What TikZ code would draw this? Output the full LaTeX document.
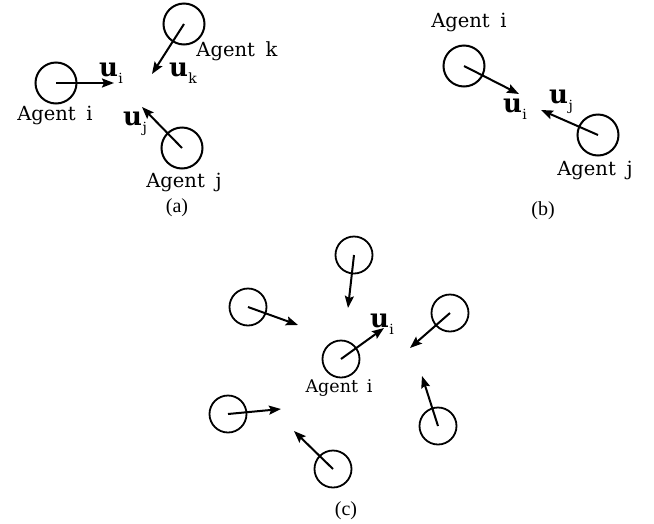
\documentclass[tikz,border=0pt]{standalone}
\usepackage{fontspec}
\setmainfont{DejaVu Serif}
\newfontfamily\capfont{Liberation Serif}
\usetikzlibrary{arrows.meta}
\newcommand\myu[1]{{\bfseries u}\kern0.5pt\raisebox{-0.28em}{\fontsize{14}{14}\selectfont #1}}
\begin{document}
\begin{tikzpicture}[x=1pt,y=-1pt,
  agent/.style={circle,draw,line width=2pt,minimum size=41pt,inner sep=0pt},
  sagent/.style={circle,draw,line width=1.8pt,minimum size=37pt,inner sep=0pt},
  vel/.style={line width=2pt,-{Stealth[length=12pt,width=9pt,inset=2pt]}},
  lbl/.style={font=\fontsize{19.5}{22}\selectfont,inner sep=0pt},
  ulbl/.style={font=\fontsize{26}{28}\selectfont,inner sep=0pt},
  captxt/.style={font=\capfont\fontsize{20}{22}\selectfont,inner sep=0pt}]
\useasboundingbox (0,0) rectangle (654,523);
% ---------- (a)
\node[agent] (ai) at (56,83) {};
\node[agent] (ak) at (184,24) {};
\node[agent] (aj) at (182,148) {};
\coordinate (aiT) at (114,83);
\coordinate (akT) at (152,74);
\coordinate (ajT) at (142,107);
\draw[vel] (ai.center) -- (aiT);
\draw[vel] (ak.center) -- (akT);
\draw[vel] (aj.center) -- (ajT);
\node[ulbl] (aui) at (111,73) {\myu{i}};
\node[ulbl] (auk) at (183,73) {\myu{k}};
\node[ulbl] (auj) at (135,124) {\myu{j}};
\node[lbl] (ati) at (55,115) {Agent\hspace{0.55em}i};
\node[lbl] (atk) at (237,51) {Agent\hspace{0.55em}k};
\node[lbl] (atj) at (184,182) {Agent\hspace{0.55em}j};
\node[captxt] (ca) at (177,208) {(a)};
% ---------- (b)
\node[agent] (bi) at (464,66) {};
\node[agent] (bj) at (598,135) {};
\coordinate (biT) at (519,94);
\coordinate (bjT) at (541,110);
\draw[vel] (bi.center) -- (biT);
\draw[vel] (bj.center) -- (bjT);
\node[ulbl] (bui) at (515,109) {\myu{i}};
\node[ulbl] (buj) at (561,102) {\myu{j}};
\node[lbl] (bti) at (469,22) {Agent\hspace{0.55em}i};
\node[lbl] (btj) at (595,170) {Agent\hspace{0.55em}j};
\node[captxt] (cb) at (543,211) {(b)};
% ---------- (c)
\node[sagent] (ci) at (341,359) {};
\node[sagent] (c1) at (354,255) {};
\node[sagent] (c2) at (248,307) {};
\node[sagent] (c3) at (450,313) {};
\node[sagent] (c4) at (228,414) {};
\node[sagent] (c5) at (438,426) {};
\node[sagent] (c6) at (333,469) {};
\coordinate (ciT) at (384,328);
\coordinate (c1T) at (348,308);
\coordinate (c2T) at (298,325);
\coordinate (c3T) at (410,348);
\coordinate (c4T) at (281,409);
\coordinate (c5T) at (422,376);
\coordinate (c6T) at (294,431);
\draw[vel] (ci.center) -- (ciT);
\draw[vel] (c1.center) -- (c1T);
\draw[vel] (c2.center) -- (c2T);
\draw[vel] (c3.center) -- (c3T);
\draw[vel] (c4.center) -- (c4T);
\draw[vel] (c5.center) -- (c5T);
\draw[vel] (c6.center) -- (c6T);
\node[ulbl] (cui) at (382,324) {\myu{i}};
\node[lbl,font=\fontsize{17.5}{20}\selectfont] (cti) at (339,388) {Agent\hspace{0.5em}i};
\node[captxt] (cc) at (346,511) {(c)};
\end{tikzpicture}
\end{document}
